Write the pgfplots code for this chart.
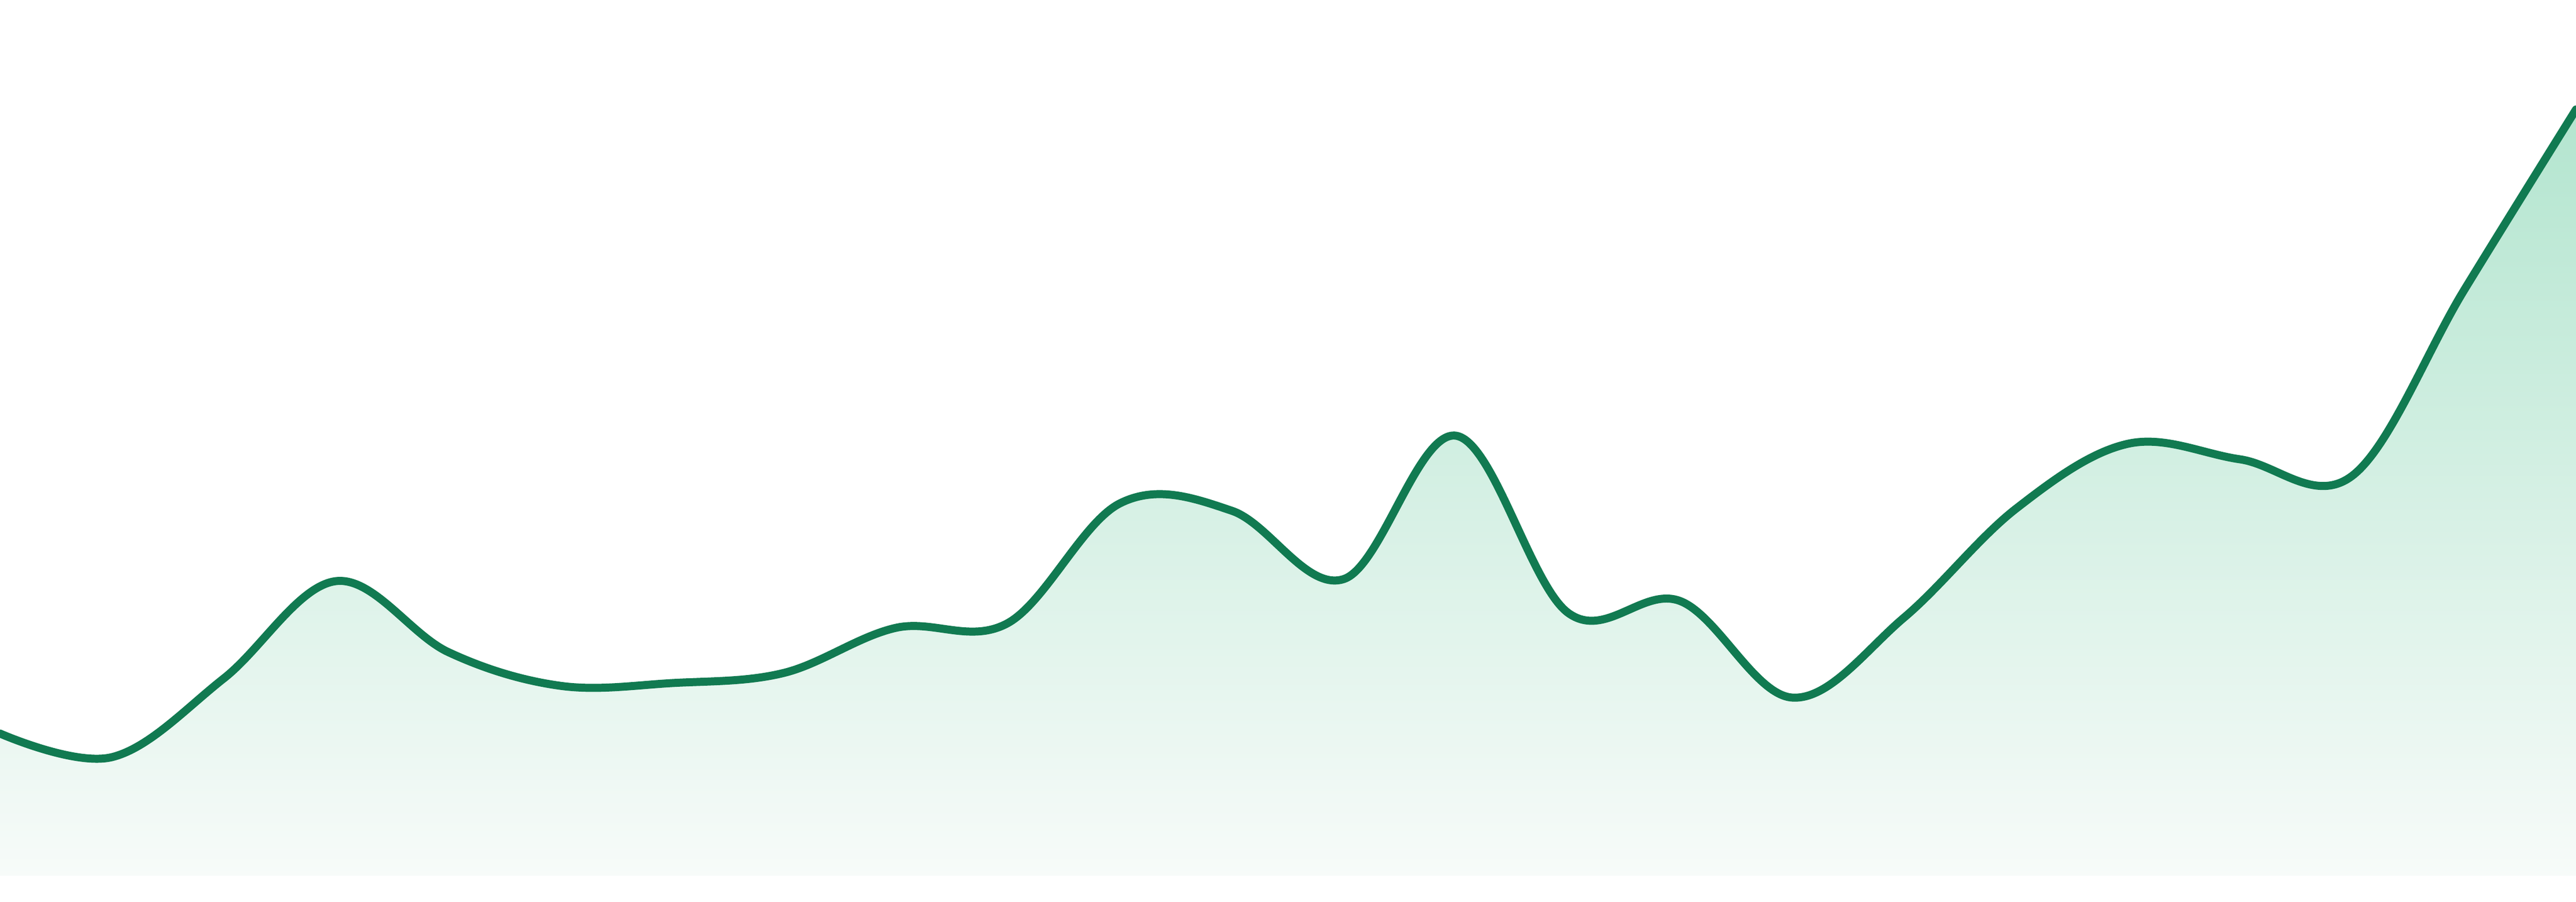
\documentclass[border=0pt]{standalone}
\usepackage{pgfplots}
\pgfplotsset{compat=1.18}
\definecolor{lineGreen}{HTML}{117A51}
\definecolor{fillTop}{HTML}{B3E5CF}
\definecolor{fillBottom}{HTML}{F7FBF9}
\begin{document}
\begin{tikzpicture}
\begin{axis}[
    width=16cm, height=5.44cm,
    scale only axis,
    hide axis,
    xmin=0, xmax=23,
    ymin=0, ymax=1632,
]
% area under the line
\addplot[draw=none, top color=fillTop, bottom color=fillBottom, smooth, tension=0.6]
coordinates {
(0,265) (1,221) (2,368) (3,549) (4,417) (5,354) (6,359) (7,378)
(8,462) (9,471) (10,694) (11,680) (12,553) (13,820) (14,490) (15,512)
(16,332) (17,481) (18,684) (19,805) (20,776) (21,745) (22,1091) (23,1428)
} \closedcycle;
% the line itself
\addplot[lineGreen, line width=1.42pt, line cap=round, line join=round, smooth, tension=0.6]
coordinates {
(0,265) (1,221) (2,368) (3,549) (4,417) (5,354) (6,359) (7,378)
(8,462) (9,471) (10,694) (11,680) (12,553) (13,820) (14,490) (15,512)
(16,332) (17,481) (18,684) (19,805) (20,776) (21,745) (22,1091) (23,1428)
};
\end{axis}
% keep the whole (hidden) axis box as the page, plus the white strip below it
\path ([yshift=-0.16cm]current axis.south west) rectangle (current axis.north east);
\end{tikzpicture}
\end{document}
